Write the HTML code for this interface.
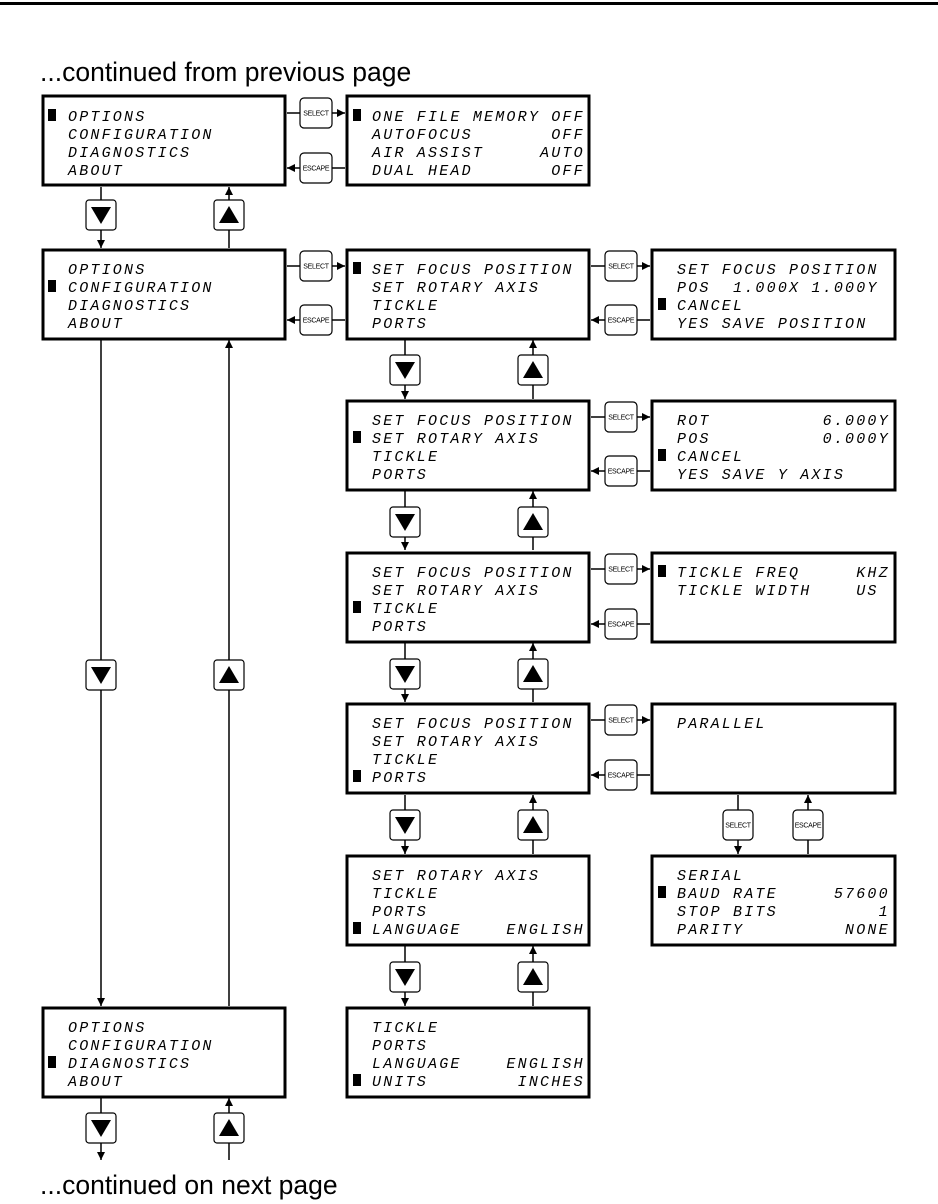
<!DOCTYPE html>
<html><head><meta charset="utf-8"><style>
html,body{margin:0;padding:0;background:#fff;}
svg{display:block}
.l{font-family:"Liberation Mono",monospace;font-style:italic;font-size:15px;letter-spacing:2.2px;white-space:pre;fill:#000}
.b{font-family:"Liberation Sans",sans-serif;font-size:7px;fill:#000;text-anchor:middle;letter-spacing:-0.3px}
.t{font-family:"Liberation Sans",sans-serif;font-size:26.5px;fill:#000}
.bx{fill:#fff;stroke:#000;stroke-width:3}
.ln{stroke:#000;stroke-width:1.5;fill:none}
.btn{fill:#fff;stroke:#000;stroke-width:1.2}
</style></head><body>
<svg width="938" height="1204" viewBox="0 0 938 1204" xmlns="http://www.w3.org/2000/svg">
<defs>
<marker id="ar" viewBox="0 0 10 10" refX="10" refY="5" markerWidth="8" markerHeight="8" markerUnits="userSpaceOnUse" orient="auto"><path d="M0,0 L10,5 L0,10 z" fill="#000"/></marker>
<g id="dn"><rect class="btn" x="-15" y="-15" width="30" height="30" rx="3"/><path d="M-10,-8 L10,-8 L0,9 z" fill="#000"/></g>
<g id="up"><rect class="btn" x="-15" y="-15" width="30" height="30" rx="3"/><path d="M-10,8 L10,8 L0,-9 z" fill="#000"/></g>
<g id="sel"><rect class="btn" x="0" y="-15" width="32" height="30" rx="4"/><text class="b" x="16" y="2.5">SELECT</text></g>
<g id="esc"><rect class="btn" x="0" y="-15" width="32" height="30" rx="4"/><text class="b" x="16" y="2.5">ESCAPE</text></g>
</defs>
<rect x="0" y="2" width="938" height="3" fill="#000"/>
<text class="t" x="40" y="81">...continued from previous page</text>
<text class="t" x="40" y="1194">...continued on next page</text>

<line class="ln" x1="101" y1="187" x2="101" y2="248" marker-end="url(#ar)"/>
<line class="ln" x1="229" y1="248" x2="229" y2="187" marker-end="url(#ar)"/>
<use href="#dn" x="101" y="215"/><use href="#up" x="229" y="215"/>
<line class="ln" x1="101" y1="340" x2="101" y2="1006" marker-end="url(#ar)"/>
<line class="ln" x1="229" y1="1006" x2="229" y2="340" marker-end="url(#ar)"/>
<use href="#dn" x="101" y="675"/><use href="#up" x="229" y="675"/>
<line class="ln" x1="101" y1="1098" x2="101" y2="1160" marker-end="url(#ar)"/>
<line class="ln" x1="229" y1="1160" x2="229" y2="1098" marker-end="url(#ar)"/>
<use href="#dn" x="101" y="1128"/><use href="#up" x="229" y="1128"/>

<g>
<line class="ln" x1="405" y1="340" x2="405" y2="399" marker-end="url(#ar)"/><line class="ln" x1="533" y1="399" x2="533" y2="340" marker-end="url(#ar)"/>
<use href="#dn" x="405" y="370"/><use href="#up" x="533" y="370"/>
<line class="ln" x1="405" y1="491" x2="405" y2="550" marker-end="url(#ar)"/><line class="ln" x1="533" y1="550" x2="533" y2="491" marker-end="url(#ar)"/>
<use href="#dn" x="405" y="522"/><use href="#up" x="533" y="522"/>
<line class="ln" x1="405" y1="643" x2="405" y2="702" marker-end="url(#ar)"/><line class="ln" x1="533" y1="702" x2="533" y2="643" marker-end="url(#ar)"/>
<use href="#dn" x="405" y="674"/><use href="#up" x="533" y="674"/>
<line class="ln" x1="405" y1="795" x2="405" y2="854" marker-end="url(#ar)"/><line class="ln" x1="533" y1="854" x2="533" y2="795" marker-end="url(#ar)"/>
<use href="#dn" x="405" y="825"/><use href="#up" x="533" y="825"/>
<line class="ln" x1="405" y1="946" x2="405" y2="1006" marker-end="url(#ar)"/><line class="ln" x1="533" y1="1006" x2="533" y2="946" marker-end="url(#ar)"/>
<use href="#dn" x="405" y="977"/><use href="#up" x="533" y="977"/>
</g>
<line class="ln" x1="738" y1="795" x2="738" y2="854" marker-end="url(#ar)"/>
<line class="ln" x1="808" y1="854" x2="808" y2="795" marker-end="url(#ar)"/>
<g transform="translate(723,825)"><rect class="btn" x="0" y="-15" width="30" height="30" rx="4"/><text class="b" x="15" y="2.5">SELECT</text></g>
<g transform="translate(793,825)"><rect class="btn" x="0" y="-15" width="30" height="30" rx="4"/><text class="b" x="15" y="2.5">ESCAPE</text></g>

<line class="ln" x1="287" y1="113" x2="345" y2="113" marker-end="url(#ar)"/>
<line class="ln" x1="345" y1="168" x2="287" y2="168" marker-end="url(#ar)"/>
<use href="#sel" x="300" y="113"/><use href="#esc" x="300" y="168"/>
<line class="ln" x1="287" y1="266" x2="345" y2="266" marker-end="url(#ar)"/>
<line class="ln" x1="345" y1="320" x2="287" y2="320" marker-end="url(#ar)"/>
<use href="#sel" x="300" y="266"/><use href="#esc" x="300" y="320"/>

<line class="ln" x1="591" y1="266" x2="650" y2="266" marker-end="url(#ar)"/><line class="ln" x1="650" y1="320" x2="591" y2="320" marker-end="url(#ar)"/>
<use href="#sel" x="605" y="266"/><use href="#esc" x="605" y="320"/>
<line class="ln" x1="591" y1="417" x2="650" y2="417" marker-end="url(#ar)"/><line class="ln" x1="650" y1="471" x2="591" y2="471" marker-end="url(#ar)"/>
<use href="#sel" x="605" y="417"/><use href="#esc" x="605" y="471"/>
<line class="ln" x1="591" y1="569" x2="650" y2="569" marker-end="url(#ar)"/><line class="ln" x1="650" y1="624" x2="591" y2="624" marker-end="url(#ar)"/>
<use href="#sel" x="605" y="569"/><use href="#esc" x="605" y="624"/>
<line class="ln" x1="591" y1="720" x2="650" y2="720" marker-end="url(#ar)"/><line class="ln" x1="650" y1="775" x2="591" y2="775" marker-end="url(#ar)"/>
<use href="#sel" x="605" y="720"/><use href="#esc" x="605" y="775"/>

<rect class="bx" x="43" y="96" width="242" height="89"/>
<rect class="bx" x="347" y="96" width="242" height="89"/>
<rect class="bx" x="43" y="250" width="242" height="89"/>
<rect class="bx" x="347" y="250" width="242" height="89"/>
<rect class="bx" x="652" y="250" width="243" height="89"/>
<rect class="bx" x="347" y="401" width="242" height="89"/>
<rect class="bx" x="652" y="401" width="243" height="89"/>
<rect class="bx" x="347" y="553" width="242" height="89"/>
<rect class="bx" x="652" y="553" width="243" height="89"/>
<rect class="bx" x="347" y="704" width="242" height="89"/>
<rect class="bx" x="652" y="704" width="243" height="89"/>
<rect class="bx" x="347" y="856" width="242" height="89"/>
<rect class="bx" x="652" y="856" width="243" height="89"/>
<rect class="bx" x="43" y="1008" width="242" height="89"/>
<rect class="bx" x="347" y="1008" width="242" height="89"/>

<g class="l">
<text x="68" y="121">OPTIONS</text><text x="68" y="139">CONFIGURATION</text><text x="68" y="157">DIAGNOSTICS</text><text x="68" y="175">ABOUT</text>
<text x="372" y="121">ONE FILE MEMORY OFF</text><text x="372" y="139">AUTOFOCUS&#160;&#160;&#160;&#160;&#160;&#160;&#160;OFF</text><text x="372" y="157">AIR ASSIST&#160;&#160;&#160;&#160;&#160;AUTO</text><text x="372" y="175">DUAL HEAD&#160;&#160;&#160;&#160;&#160;&#160;&#160;OFF</text>

<text x="68" y="274">OPTIONS</text><text x="68" y="292">CONFIGURATION</text><text x="68" y="310">DIAGNOSTICS</text><text x="68" y="328">ABOUT</text>
<text x="372" y="274">SET FOCUS POSITION</text><text x="372" y="292">SET ROTARY AXIS</text><text x="372" y="310">TICKLE</text><text x="372" y="328">PORTS</text>
<text x="677" y="274">SET FOCUS POSITION</text><text x="677" y="292">POS&#160;&#160;1.000X 1.000Y</text><text x="677" y="310">CANCEL</text><text x="677" y="328">YES SAVE POSITION</text>

<text x="372" y="425">SET FOCUS POSITION</text><text x="372" y="443">SET ROTARY AXIS</text><text x="372" y="461">TICKLE</text><text x="372" y="479">PORTS</text>
<text x="677" y="425">ROT&#160;&#160;&#160;&#160;&#160;&#160;&#160;&#160;&#160;&#160;6.000Y</text><text x="677" y="443">POS&#160;&#160;&#160;&#160;&#160;&#160;&#160;&#160;&#160;&#160;0.000Y</text><text x="677" y="461">CANCEL</text><text x="677" y="479">YES SAVE Y AXIS</text>

<text x="372" y="577">SET FOCUS POSITION</text><text x="372" y="595">SET ROTARY AXIS</text><text x="372" y="613">TICKLE</text><text x="372" y="631">PORTS</text>
<text x="677" y="577">TICKLE FREQ&#160;&#160;&#160;&#160;&#160;KHZ</text><text x="677" y="595">TICKLE WIDTH&#160;&#160;&#160;&#160;US</text>

<text x="372" y="728">SET FOCUS POSITION</text><text x="372" y="746">SET ROTARY AXIS</text><text x="372" y="764">TICKLE</text><text x="372" y="782">PORTS</text>
<text x="677" y="728">PARALLEL</text>

<text x="372" y="880">SET ROTARY AXIS</text><text x="372" y="898">TICKLE</text><text x="372" y="916">PORTS</text><text x="372" y="934">LANGUAGE&#160;&#160;&#160;&#160;ENGLISH</text>
<text x="677" y="880">SERIAL</text><text x="677" y="898">BAUD RATE&#160;&#160;&#160;&#160;&#160;57600</text><text x="677" y="916">STOP BITS&#160;&#160;&#160;&#160;&#160;&#160;&#160;&#160;&#160;1</text><text x="677" y="934">PARITY&#160;&#160;&#160;&#160;&#160;&#160;&#160;&#160;&#160;NONE</text>

<text x="68" y="1032">OPTIONS</text><text x="68" y="1050">CONFIGURATION</text><text x="68" y="1068">DIAGNOSTICS</text><text x="68" y="1086">ABOUT</text>
<text x="372" y="1032">TICKLE</text><text x="372" y="1050">PORTS</text><text x="372" y="1068">LANGUAGE&#160;&#160;&#160;&#160;ENGLISH</text><text x="372" y="1086">UNITS&#160;&#160;&#160;&#160;&#160;&#160;&#160;&#160;INCHES</text>
</g>
<g fill="#000">
<rect x="48" y="109" width="8" height="12"/>
<rect x="353" y="109" width="8" height="12"/>
<rect x="48" y="280" width="8" height="12"/>
<rect x="353" y="262" width="8" height="12"/>
<rect x="658" y="298" width="8" height="12"/>
<rect x="353" y="431" width="8" height="12"/>
<rect x="658" y="449" width="8" height="12"/>
<rect x="353" y="601" width="8" height="12"/>
<rect x="658" y="565" width="8" height="12"/>
<rect x="353" y="770" width="8" height="12"/>
<rect x="353" y="922" width="8" height="12"/>
<rect x="658" y="886" width="8" height="12"/>
<rect x="48" y="1056" width="8" height="12"/>
<rect x="353" y="1074" width="8" height="12"/>
</g>
</svg>
</body></html>
